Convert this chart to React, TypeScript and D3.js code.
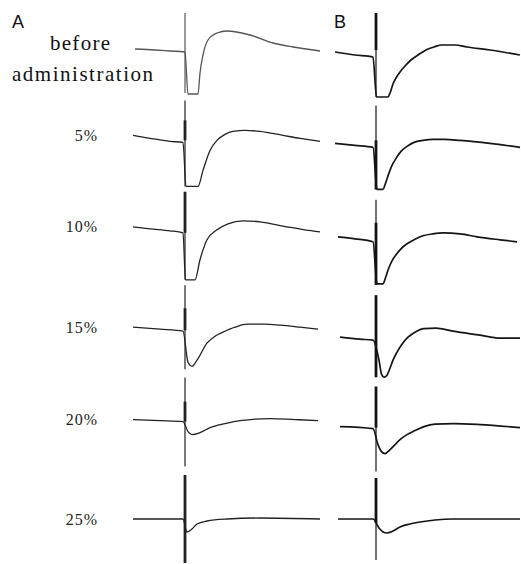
import React from 'react'
import { scaleLinear, scaleBand, line, curveMonotoneX } from 'd3'

// rows of the figure, top to bottom
const rowLabels = ['before administration', '5%', '10%', '15%', '20%', '25%']

// traces: [time ms (stimulus at 0), potential mV]
const a0: [number, number][] = [[-10, 0.4], [-6, 0.3], [-3, 0.2], [0, 0.1], [0.6, -4.1], [2.6, -4.1], [3.0, -2.0], [3.6, -0.2], [4.6, 1.3], [6.4, 2.0], [8.4, 2.2], [13, 1.8], [17.6, 1.0], [21.6, 0.6], [27, 0.2]]
const a1: [number, number][] = [[-10.4, 1.0], [-7, 0.7], [-3, 0.4], [-0.4, 0.3], [0.2, -4.1], [2.6, -4.1], [3.6, -2.5], [5, -0.5], [6.4, 0.5], [8, 1.1], [9.6, 1.4], [12, 1.5], [15, 1.4], [19.6, 1.0], [23, 0.7], [27, 0.4]]
const a2: [number, number][] = [[-10.4, 1.1], [-7, 0.9], [-3, 0.7], [-0.4, 0.5], [0.1, -4.2], [2, -4.2], [3, -2.2], [4.4, -0.2], [6.4, 0.8], [8.6, 1.4], [11.6, 1.7], [15, 1.6], [20.4, 1.1], [24, 0.8], [27, 0.6]]
const a3: [number, number][] = [[-10.4, 0.3], [-5, 0.1], [-0.4, -0.1], [0.6, -3.2], [1.4, -3.6], [2.4, -3.0], [4.4, -1.3], [6, -0.6], [7.6, -0.2], [10, 0.3], [12.4, 0.6], [16, 0.6], [19, 0.5], [23, 0.3], [26.6, 0.1]]
const a4: [number, number][] = [[-10.4, 0.3], [-5, 0.2], [-0.4, 0.1], [0.6, -0.9], [1.4, -1.2], [3, -1.0], [5, -0.5], [8, -0.1], [11, 0.2], [17, 0.4], [22, 0.3], [26.6, 0.2]]
const a5: [number, number][] = [[-10.4, -0.4], [-0.4, -0.4], [0.4, -1.7], [1.4, -1.4], [2.4, -0.9], [4.4, -0.6], [8.4, -0.4], [15, -0.3], [27, -0.4]]

const b0: [number, number][] = [[-8.2, 0.1], [-4.2, -0.2], [-0.6, -0.4], [0.1, -4.4], [2.4, -4.4], [2.8, -4.0], [3.4, -3.1], [4.0, -2.5], [4.8, -1.9], [5.8, -1.3], [7.0, -0.7], [8.4, -0.2], [10.0, 0.3], [11.6, 0.6], [13.2, 0.8], [15.8, 0.8], [18.2, 0.6], [22.8, 0.3], [28.8, -0.2]]
const b1: [number, number][] = [[-8.2, 0.2], [-4.2, 0.0], [-0.6, -0.2], [0.2, -4.4], [1.4, -4.4], [1.9, -3.8], [2.5, -2.9], [3.2, -2.0], [4.0, -1.3], [5.0, -0.6], [6.2, -0.1], [7.6, 0.3], [9.4, 0.5], [11.4, 0.6], [13.8, 0.6], [16.8, 0.5], [22.8, 0.2], [28.8, -0.2]]
const b2: [number, number][] = [[-7.6, 0.1], [-4.2, -0.1], [-0.6, -0.4], [0.2, -4.6], [1.4, -4.6], [1.9, -4.0], [2.5, -3.1], [3.2, -2.3], [4.0, -1.7], [5.0, -1.1], [6.2, -0.6], [7.6, -0.2], [9.4, 0.2], [11.4, 0.4], [13.4, 0.5], [16.8, 0.4], [20.2, 0.1], [24.8, -0.2], [28.2, -0.4]]
const b3: [number, number][] = [[-7.2, -0.7], [-3.2, -0.9], [-0.6, -1.0], [0.6, -3.0], [1.1, -4.4], [1.6, -4.7], [2.2, -4.5], [2.8, -3.8], [3.4, -3.0], [4.2, -2.2], [5.2, -1.4], [6.4, -0.7], [7.8, -0.2], [9.6, 0.15], [12.0, 0.2], [15.4, -0.1], [20.8, -0.5], [24.8, -0.8], [28.8, -0.8]]
const b4: [number, number][] = [[-7.2, -0.4], [-0.6, -0.6], [0.4, -2.2], [1.1, -2.9], [1.8, -3.1], [2.6, -2.8], [3.6, -2.3], [4.8, -1.7], [6.2, -1.2], [7.8, -0.8], [9.6, -0.4], [11.8, -0.15], [15.4, -0.1], [20.8, -0.2], [28.8, -0.5]]
const b5: [number, number][] = [[-7.6, -0.4], [-0.6, -0.4], [0.6, -1.3], [1.4, -1.7], [2.2, -1.8], [3.4, -1.6], [4.8, -1.2], [6.8, -0.9], [8.8, -0.7], [11.8, -0.5], [15.4, -0.4], [28.8, -0.4]]

const tracesA = [a0, a1, a2, a3, a4, a5]
const tracesB = [b0, b1, b2, b3, b4, b5]

// stimulus artefact extent [top, bottom] and its dense part, mV
const stimA = [[4.0, -4.0], [4.5, -4.1], [4.6, -4.2], [4.5, -3.9], [4.5, -4.4], [4.0, -4.8]]
const burstA = [[4.0, 4.0], [2.5, 0.5], [4.6, 0.5], [2.2, 0.0], [2.1, 0.1], [4.0, -4.8]]
const stimB = [[4.0, -4.4], [4.0, -4.4], [3.8, -4.7], [3.5, -4.7], [3.6, -4.9], [3.7, -4.5]]
const burstB = [[4.0, 0.3], [0.5, -4.4], [1.5, -4.7], [3.5, -4.7], [3.6, -0.5], [3.7, -0.8]]

const width = 521
const height = 564
const serif = "'Liberation Serif', 'Times New Roman', serif"
const sans = "'Liberation Sans', Arial, sans-serif"

const xA = scaleLinear().domain([-10.4, 27]).range([133, 320])
const xB = scaleLinear().domain([-8.2, 28.8]).range([335, 520])
const rows = scaleBand().domain(rowLabels).range([13, 567.4])

const rowY = (label: string) => {
    const top = rows(label) as number
    return scaleLinear().domain([4, -5]).range([top, top + 90])
}

const Trace = ({ data, x, y, stim, burst, color, sw }) => {
    const path = line<[number, number]>()
        .x(d => x(d[0]))
        .y(d => y(d[1]))
        .curve(curveMonotoneX)
    return (
        <g>
            <line x1={x(0)} x2={x(0)} y1={y(stim[0])} y2={y(stim[1])} stroke={color} strokeWidth={1.2} />
            <line x1={x(0)} x2={x(0)} y1={y(burst[0])} y2={y(burst[1])} stroke={color} strokeWidth={2.8} />
            <path d={path(data) || ''} fill='none' stroke={color} strokeWidth={sw} strokeLinejoin='round' />
        </g>
    )
}

export default function App() {
    return (
        <svg width={width} height={height} style={{ position: 'absolute', left: 0, top: 0, background: '#fff' }}>
            <text x={12} y={28} fontFamily={sans} fontSize={18} fill='#111'>A</text>
            <text x={334} y={28} fontFamily={sans} fontSize={18} fill='#111'>B</text>
            <text x={50} y={50} fontFamily={serif} fontSize={21} fill='#111'
                textLength={60} lengthAdjust='spacing'>before</text>
            <text x={12} y={81} fontFamily={serif} fontSize={21} fill='#111'
                textLength={141} lengthAdjust='spacing'>administration</text>
            {rowLabels.map((label, i) => {
                const y = rowY(label)
                return (
                    <g key={label}>
                        {i > 0 && (
                            <text x={98} y={y(tracesA[i][0][1]) + 5.5} textAnchor='end'
                                fontFamily={serif} fontSize={16} fill='#222'
                                letterSpacing={1}>{label}</text>
                        )}
                        <Trace data={tracesA[i]} x={xA} y={y} stim={stimA[i]} burst={burstA[i]}
                            color={i === 0 ? '#555' : '#222'} sw={1.3} />
                        <Trace data={tracesB[i]} x={xB} y={y} stim={stimB[i]} burst={burstB[i]}
                            color='#151515' sw={1.7} />
                    </g>
                )
            })}
        </svg>
    )
}
